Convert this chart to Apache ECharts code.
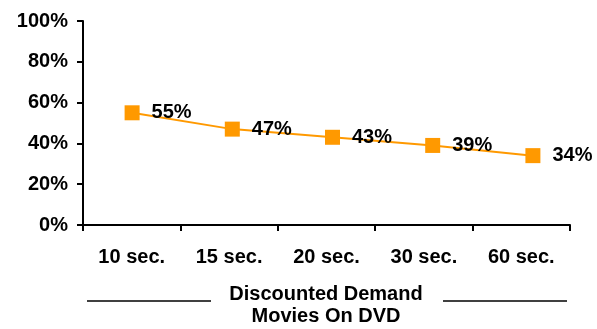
<!DOCTYPE html>
<html>
<head>
<meta charset="utf-8">
<script src="https://cdn.jsdelivr.net/npm/echarts@6/dist/echarts.min.js"></script>
<style>
  html, body { margin: 0; padding: 0; background: #fff; }
  #chart { width: 597px; height: 329px; }
</style>
</head>
<body>
<div id="chart"></div>
<script>
// Share of viewers still watching, by ad length
const categories = ['10 sec.', '15 sec.', '20 sec.', '30 sec.', '60 sec.'];
const demandValues = [55, 47, 43, 39, 34];
const yTicks = [0, 20, 40, 60, 80, 100];
const titleLines = ['Discounted Demand', 'Movies On DVD'];

const FONT = 'Arial, "Liberation Sans", sans-serif';
const ORANGE = '#FF9900';

const chart = echarts.init(document.getElementById('chart'), null, { renderer: 'canvas' });

chart.setOption({
  animation: false,
  backgroundColor: '#fff',
  grid: [
    { left: 83, right: 27, top: 21, bottom: 104 },
    { left: 82, right: 14, top: 21, bottom: 104 }
  ],
  xAxis: [
    {
      type: 'category', gridIndex: 0, data: categories, boundaryGap: true,
      axisLine: { lineStyle: { color: '#000', width: 2 } },
      axisTick: { show: true, length: 6, lineStyle: { color: '#000', width: 2 } },
      axisLabel: { color: '#000', fontFamily: FONT, fontWeight: 'bold', fontSize: 20, margin: 22 }
    },
    {
      type: 'category', gridIndex: 1, data: categories, boundaryGap: true, show: false
    }
  ],
  yAxis: [
    {
      type: 'value', gridIndex: 0, min: yTicks[0], max: yTicks[yTicks.length - 1], interval: 20,
      splitLine: { show: false },
      axisLine: { show: true, lineStyle: { color: '#000', width: 2 } },
      axisTick: { show: true, length: 6, lineStyle: { color: '#000', width: 2 } },
      axisLabel: { color: '#000', fontFamily: FONT, fontWeight: 'bold', fontSize: 20, margin: 15,
                   formatter: v => v + '%' }
    },
    {
      type: 'value', gridIndex: 1, min: yTicks[0], max: yTicks[yTicks.length - 1], show: false,
      splitLine: { show: false }
    }
  ],
  series: [{
    type: 'line',
    xAxisIndex: 1,
    yAxisIndex: 1,
    data: demandValues,
    symbol: 'rect',
    symbolSize: 15,
    itemStyle: { color: ORANGE },
    lineStyle: { color: ORANGE, width: 2 },
    label: {
      show: true, position: 'right', distance: 12,
      formatter: p => p.value + '%',
      color: '#000', fontFamily: FONT, fontWeight: 'bold', fontSize: 20
    }
  }],
  graphic: [
    { type: 'text', x: 326, y: 294,
      style: { text: titleLines[0], textAlign: 'center', textVerticalAlign: 'middle',
               fill: '#000', font: 'bold 20px ' + FONT } },
    { type: 'text', x: 326, y: 316,
      style: { text: titleLines[1], textAlign: 'center', textVerticalAlign: 'middle',
               fill: '#000', font: 'bold 20px ' + FONT } },
    { type: 'line', shape: { x1: 87, y1: 301, x2: 211, y2: 301 },
      style: { stroke: '#000', lineWidth: 1.5 } },
    { type: 'line', shape: { x1: 443, y1: 301, x2: 567, y2: 301 },
      style: { stroke: '#000', lineWidth: 1.5 } }
  ]
});
</script>
</body>
</html>
